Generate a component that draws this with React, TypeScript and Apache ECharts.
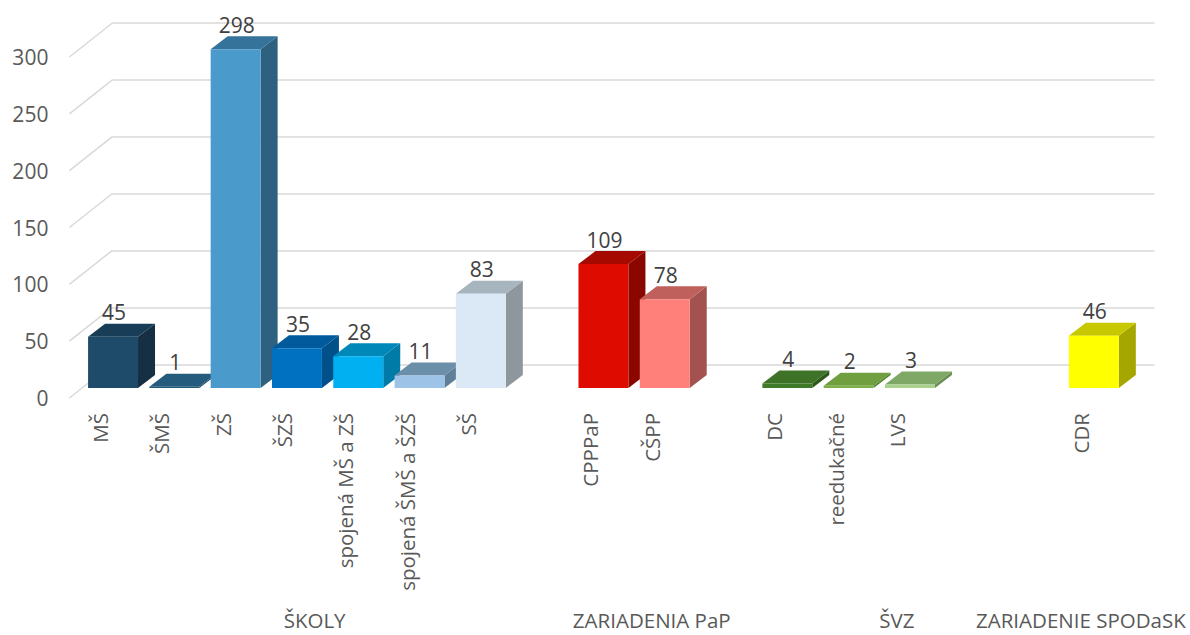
import React, { useEffect, useRef } from "react";
import * as echarts from "echarts";

const categories = [
  "MŠ", "ŠMŠ", "ZŠ", "ŠZŠ", "spojená MŠ a ZŠ", "spojená ŠMŠ a ŠZŠ", "SŠ", "",
  "CPPPaP", "CŠPP", "", "DC", "reedukačné", "LVS", "", "", "CDR",
];
const values: (number | null)[] = [45, 1, 298, 35, 28, 11, 83, null, 109, 78, null, 4, 2, 3, null, null, 46];
const frontColors = [
  "#1F4B6A", "#22587A", "#4A9ACB", "#0070C0", "#00B0F0", "#9DC3E6", "#DAE9F5", "",
  "#DE0C00", "#FF7F7A", "", "#3F7A28", "#7DB14A", "#A9D18E", "", "", "#FFFF00",
];
const topColors = [
  "#183D57", "#255C7E", "#36739A", "#005A9C", "#0088B8", "#6B8EA9", "#A7B5BF", "",
  "#A60900", "#C0605C", "", "#3E7327", "#6F9F3E", "#7FA866", "", "", "#C8C800",
];
const sideColors = [
  "#162F42", "#1A4660", "#2E6080", "#00508A", "#007AA6", "#5F7F99", "#8E979E", "",
  "#8A0700", "#A3524F", "", "#2D5A1C", "#58822F", "#6A8F55", "", "", "#A6A600",
];
const yTicks = [0, 50, 100, 150, 200, 250, 300];
const groups = ["ŠKOLY", "ZARIADENIA PaP", "ŠVZ", "ZARIADENIE SPODaSK"];
const groupStart = [0, 8, 11, 16];
const groupEnd = [7, 10, 15, 16];

const FONT = "'Open Sans', sans-serif";
const DEPTH_X = 43;
const DEPTH_Y = -34;
const BAR_FX = 13;
const BAR_FY = -10;
const BAR_DX = 17;
const BAR_DY = -13;
const BAR_RATIO = 0.815;

export default function App() {
  const ref = useRef<HTMLDivElement>(null);
  useEffect(() => {
    document.body.style.margin = "0";
    if (!ref.current) return;
    const chart = echarts.init(ref.current, undefined, { renderer: "svg" });

    const barData = values
      .map((v, i) => (v == null ? null : [i, v]))
      .filter((d) => d != null);

    const option: any = {
      animation: false,
      backgroundColor: "#ffffff",
      grid: [
        { left: 69.4, right: 78.5, top: 57, bottom: 237 },
        { left: 112.4, right: 35.5, top: 23, bottom: 270 },
      ],
      xAxis: [
        {
          type: "category",
          gridIndex: 0,
          data: categories,
          axisLine: { show: false },
          axisTick: { show: false },
          axisLabel: {
            interval: 0,
            rotate: 90,
            margin: 15,
            fontSize: 20.5,
            fontFamily: FONT,
            color: "#595959",
          },
        },
        {
          type: "category",
          gridIndex: 1,
          data: categories,
          show: false,
        },
      ],
      yAxis: [
        {
          type: "value",
          gridIndex: 0,
          min: 0,
          max: 300,
          interval: 50,
          axisLine: { show: false },
          axisTick: { show: false },
          splitLine: { show: false },
          axisLabel: {
            margin: 21,
            fontSize: 21,
            fontFamily: FONT,
            color: "#595959",
          },
        },
        {
          type: "value",
          gridIndex: 1,
          min: 0,
          max: 300,
          interval: 50,
          axisLine: { show: false },
          axisTick: { show: false },
          axisLabel: { show: false },
          splitLine: { show: true, lineStyle: { color: "#D9D9D9", width: 1.5 } },
        },
      ],
      series: [
        {
          type: "custom",
          xAxisIndex: 0,
          yAxisIndex: 0,
          data: yTicks.map((t) => [0, t]),
          silent: true,
          renderItem: (params: any, api: any) => {
            const p = api.coord([api.value(0), api.value(1)]);
            const band = api.size([1, 0])[0];
            const x = p[0] - band / 2;
            return {
              type: "line",
              shape: { x1: x, y1: p[1], x2: x + DEPTH_X, y2: p[1] + DEPTH_Y },
              style: { stroke: "#D9D9D9", lineWidth: 1.5 },
            };
          },
        },
        {
          type: "custom",
          xAxisIndex: 0,
          yAxisIndex: 0,
          data: barData,
          clip: false,
          renderItem: (params: any, api: any) => {
            const i = api.value(0);
            const v = api.value(1);
            const p = api.coord([i, v]);
            const p0 = api.coord([i, 0]);
            const band = api.size([1, 0])[0];
            const bw = band * BAR_RATIO;
            const x0 = p[0] - bw / 2 + BAR_FX;
            const yTop = p[1] + BAR_FY;
            const yBot = p0[1] + BAR_FY;
            return {
              type: "group",
              children: [
                {
                  type: "polygon",
                  shape: {
                    points: [
                      [x0 + bw, yTop],
                      [x0 + bw + BAR_DX, yTop + BAR_DY],
                      [x0 + bw + BAR_DX, yBot + BAR_DY],
                      [x0 + bw, yBot],
                    ],
                  },
                  style: { fill: sideColors[i] },
                },
                {
                  type: "polygon",
                  shape: {
                    points: [
                      [x0, yTop],
                      [x0 + bw, yTop],
                      [x0 + bw + BAR_DX, yTop + BAR_DY],
                      [x0 + BAR_DX, yTop + BAR_DY],
                    ],
                  },
                  style: { fill: topColors[i] },
                },
                {
                  type: "rect",
                  shape: { x: x0, y: yTop, width: bw, height: Math.max(yBot - yTop, 0) },
                  style: { fill: frontColors[i] },
                },
                {
                  type: "text",
                  x: x0 + bw / 2 + 1,
                  y: yTop + BAR_DY - 1,
                  style: {
                    text: String(v),
                    fill: "#404040",
                    fontSize: 21,
                    fontFamily: FONT,
                    textAlign: "center",
                    textVerticalAlign: "bottom",
                  },
                },
              ],
            };
          },
        },
        {
          type: "custom",
          xAxisIndex: 0,
          yAxisIndex: 0,
          data: groups.map((g, k) => [groupStart[k], 0, groupEnd[k], k]),
          clip: false,
          silent: true,
          renderItem: (params: any, api: any) => {
            const a = api.coord([api.value(0), 0]);
            const b = api.coord([api.value(2), 0]);
            const k = api.value(3);
            return {
              type: "text",
              x: (a[0] + b[0]) / 2,
              y: a[1] + 222,
              style: {
                text: groups[k],
                fill: "#595959",
                fontSize: 20.5,
                lineHeight: 20,
                fontFamily: FONT,
                textAlign: "center",
                textVerticalAlign: "middle",
              },
            };
          },
        },
      ],
    };
    chart.setOption(option);
    return () => chart.dispose();
  }, []);
  return <div ref={ref} style={{ width: 1190, height: 635 }} />;
}
